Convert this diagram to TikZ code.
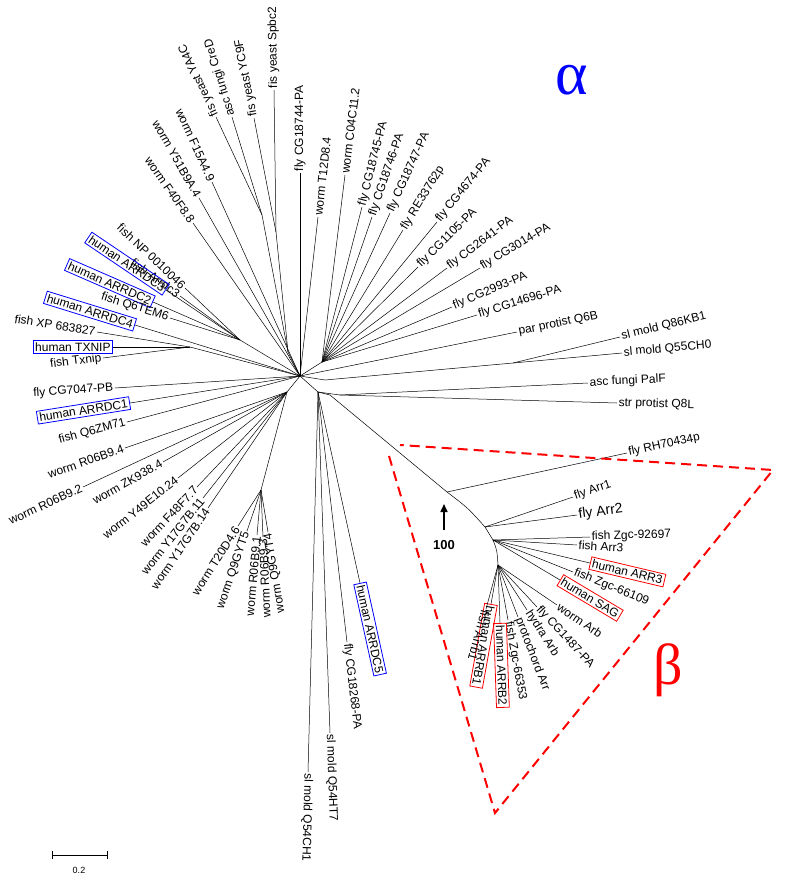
\documentclass[tikz,border=0pt]{standalone}
\usepackage{fontspec}
\setmainfont{Liberation Sans}
\newfontfamily\grk{Liberation Serif}
\usetikzlibrary{calc,arrows.meta}
\tikzset{
 leaf/.style={inner sep=1.5pt,font=\fontsize{12}{12}\selectfont},
 hb/.style={draw=blue,line width=0.8pt,inner sep=2pt},
 hr/.style={draw=red,line width=0.8pt,inner sep=2pt},
 br/.style={line width=0.5pt}
}
\newcommand\lR[4][]{\draw[br] let \p1=($(#3)-(#2)$), \n1={atan2(\y1,\x1)} in (#2) -- (#3) node[leaf,anchor=west,rotate=\n1,#1]{#4};}
\newcommand\lL[4][]{\draw[br] let \p1=($(#3)-(#2)$), \n1={atan2(\y1,\x1)} in (#2) -- (#3) node[leaf,anchor=east,rotate=\n1+180,#1]{#4};}
\begin{document}
\begin{tikzpicture}[x=1pt,y=-1pt]
\useasboundingbox (0,0) rectangle (785,879);
% internal nodes
\coordinate (R) at (300,376);
\coordinate (Fg) at (288,352);
\coordinate (Fg1) at (262,215);
\coordinate (Fg2) at (276,232);
\coordinate (G1) at (240,340);
\coordinate (G2) at (190,347);
\coordinate (F) at (322,362);
\coordinate (S0) at (325,380);
\coordinate (S) at (513,363);
\coordinate (P) at (340,395);
\coordinate (Q) at (318,392);
\coordinate (Wa) at (287,392);
\coordinate (W2) at (261,490);
\coordinate (B0) at (330,395);
\coordinate (B1) at (447,492);
\coordinate (B2) at (485,527);
\coordinate (B3) at (493,540);
\coordinate (B4) at (498,565);
% internal branches
\draw[br] (R) -- (Fg) -- (Fg1); \draw[br] (Fg) -- (Fg2);
\draw[br] (R) -- (G1); \draw[br] (R) -- (G2); \draw[br] (R) -- (F);
\draw[br] (R) -- (S0) -- (S); \draw[br] (R) -- (Q) -- (P);
\draw[br] (R) -- (Wa) -- (W2);
\draw[br] (Q) -- (B0) -- (B1);
\draw[br] (B1) .. controls (468,508) .. (B2) -- (B3) .. controls (497,550) .. (B4);
% fungi
\lR{Fg1}{216,117}{fis yeast YA4C}
\lR{Fg1}{232,117}{asc fungi CreD}
\lR{Fg2}{254,118}{fis yeast YC9F}
\lR{Fg2}{274,90}{fis yeast Spbc2}
\lR{R}{300,173}{fly CG18744-PA}
\lR{R}{318,217}{worm T12D8.4}
\lR{F}{345,175}{worm C04C11.2}
\lR{F}{362,207}{fly CG18745-PA}
\lR{F}{372,217}{fly CG18746-PA}
\lR{F}{390,213}{fly CG18747-PA}
\lR{F}{403,230}{fly RE33762p}
\lR{F}{437,222}{fly CG4674-PA}
\lR{F}{418,267}{fly CG1105-PA}
\lR{F}{447,268}{fly CG2641-PA}
\lR{F}{480,268}{fly CG3014-PA}
\lR{F}{452,307}{fly CG2993-PA}
\lR{F}{477,315}{fly CG14696-PA}
\lR{R}{517,332}{par protist Q6B}
\lR{S}{620,337}{sl mold Q86KB1}
\lR{S}{622,353}{sl mold Q55CH0}
\lR{P}{588,383}{asc fungi PalF}
\lR{P}{617,403}{str protist Q8L}
% upper left
\lL{R}{212,182}{worm F15A4.9}
\lL{R}{199,198}{worm Y51B9A.4}
\lL{R}{193,223}{worm F40F8.8}
\lL{G1}{185,288}{fish NP 0010046}
\lL{G1}{180,296}{fish Arrdc3}
\lL[hb]{G1}{166,290}{human ARRDC3}
\lL[hb]{G1}{153,302}{human ARRDC2}
\lL{G1}{170,318}{fish Q6TEM6}
\lL[hb]{R}{135,325}{human ARRDC4}
\lL{G2}{97,332}{fish XP 683827}
\lL[hb]{G2}{113,347}{human TXNIP}
\lL{G2}{103,358}{fish Txnip}
\lL{R}{115,388}{fly CG7047-PB}
\lL[hb]{R}{130,403}{human ARRDC1}
\lL{R}{127,422}{fish Q6ZM71}
\lL{Wa}{125,448}{worm R06B9.4}
\lL{Wa}{83,487}{worm R06B9.2}
\lL{Wa}{163,462}{worm ZK938.4}
\lL{Wa}{178,478}{worm Y49E10.24}
\lL{Wa}{197,487}{worm F48F7.7}
\lL{Wa}{203,498}{worm Y17G7B.11}
\lL{Wa}{208,508}{worm Y17G7B.14}
\lL{W2}{238,526}{worm T20D4.6}
\lL{W2}{247,531}{worm Q9GYT5}
\lL{W2}{257,535}{worm R06B9.1}
\lL{W2}{263,537}{worm R06B9.3}
\lL{W2}{268,532}{worm Q9GYT4}
% bottom
\lR{Q}{308,772}{sl mold Q54CH1}
\lR{Q}{330,733}{sl mold Q54HT7}
\lR{Q}{347,642}{fly CG18268-PA}
\lR[hb]{Q}{360,583}{human ARRDC5}
% beta
\lR{B1}{627,453}{fly RH70434p}
\lR{B2}{573,497}{fly Arr1}
\lR[font=\fontsize{14}{14}\selectfont]{B2}{577,515}{fly Arr2}
\lR{B3}{590,537}{fish Zgc-92697}
\lR{B3}{577,545}{fish Arr3}
\lR[hr]{B3}{590,563}{human ARR3}
\lR{B3}{573,572}{fish Zgc-66109}
\lR[hr]{B3}{560,580}{human SAG}
\lR{B4}{557,605}{worm Arb}
\lR{B4}{537,607}{fly CG1487-PA}
\lR{B4}{527,610}{hydra Arb}
\lR{B4}{518,617}{protochord Arr}
\lR{B4}{508,620}{fish Zgc-66353}
\lR[hr]{B4}{500,623}{human ARRB2}
\lR[hr]{B4}{491,604}{human ARRB1}
\lR{B4}{486,609}{fish Arrb1}
% arrow and 100
\node[font=\bfseries\fontsize{13}{13}\selectfont] (hund) at (444,545) {100};
\coordinate (atail) at (444,530);
\coordinate (ahead) at (444,504);
\draw[-{Triangle[length=8pt,width=7pt]},line width=1.6pt] (atail) -- (ahead);
% triangle
\draw[red,line width=2pt,dash pattern=on 10pt off 6pt] (389,456) -- (495,813) -- (773,470) -- (400,445);
\node[blue,font=\grk\fontsize{62}{62}\selectfont] (alpha) at (572,80) {α};
\node[red,font=\grk\fontsize{58}{58}\selectfont] (beta) at (668,670) {β};
% scale bar
\draw[br] (52,855) -- (107,855);
\draw[br] (52,851) -- (52,859); \draw[br] (107,851) -- (107,859);
\node[font=\fontsize{9}{9}\selectfont] (sc) at (79,870) {0.2};
\end{tikzpicture}
\end{document}
